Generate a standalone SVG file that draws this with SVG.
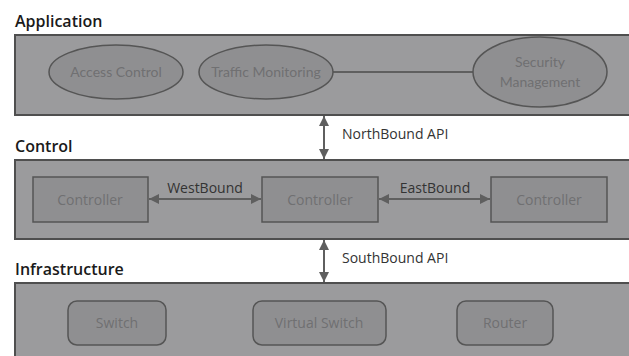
<svg xmlns="http://www.w3.org/2000/svg" width="629" height="356" viewBox="0 0 629 356">
<style>
.title{font-family:"Open Sans","DejaVu Sans",sans-serif;font-size:16px;font-weight:600;fill:#1a1a1a}
.layer{fill:#9b9b9d;stroke:#4f4f4f;stroke-width:2}
.ell{fill:#8f8f91;stroke:#555;stroke-width:1.5}
.box{fill:#8f8f91;stroke:#555;stroke-width:1.5}
.ntext{font-family:"Lato","Open Sans",sans-serif;font-size:14px;fill:#707072;text-anchor:middle}
.otext{font-family:"Open Sans",sans-serif;font-size:14px;fill:#707072;text-anchor:middle}
.lbl{font-family:"Open Sans",sans-serif;font-size:14px;fill:#333}
.conn{stroke:#5f5f5f;stroke-width:2;fill:none}
</style>
<defs>
<marker id="ah" viewBox="0 0 10 10" refX="10" refY="5" markerWidth="5" markerHeight="5" orient="auto-start-reverse" markerUnits="strokeWidth">
<path d="M0,0 L10,5 L0,10 z" fill="#5f5f5f"/>
</marker>
</defs>
<rect width="629" height="356" fill="#fff"/>
<g id="layer-application">
<text class="title" x="15" y="27">Application</text>
<rect class="layer" x="15" y="35" width="620" height="80"/>
</g>
<g id="layer-control">
<text class="title" x="15" y="152">Control</text>
<rect class="layer" x="15" y="160" width="620" height="79"/>
</g>
<g id="layer-infrastructure">
<text class="title" x="15" y="275">Infrastructure</text>
<rect class="layer" x="15" y="283" width="620" height="90"/>
</g>
<g id="connectors">
<line class="conn" x1="333" y1="72" x2="473" y2="72"/>
<line class="conn" x1="324" y1="116" x2="324" y2="159" marker-start="url(#ah)" marker-end="url(#ah)"/>
<line class="conn" x1="324" y1="240" x2="324" y2="282" marker-start="url(#ah)" marker-end="url(#ah)"/>
<line class="conn" x1="149" y1="199" x2="261" y2="199" marker-start="url(#ah)" marker-end="url(#ah)"/>
<line class="conn" x1="379" y1="199" x2="490" y2="199" marker-start="url(#ah)" marker-end="url(#ah)"/>
<text class="lbl" x="342" y="139">NorthBound API</text>
<text class="lbl" x="342" y="263">SouthBound API</text>
<text class="lbl" x="205" y="193" text-anchor="middle">WestBound</text>
<text class="lbl" x="435" y="193" text-anchor="middle">EastBound</text>
</g>
<g id="access-control">
<ellipse class="ell" cx="116" cy="72" rx="67" ry="27"/>
<text class="ntext" x="116" y="77">Access Control</text>
</g>
<g id="traffic-monitoring">
<ellipse class="ell" cx="266" cy="72" rx="67" ry="27"/>
<text class="ntext" x="266" y="77">Traffic Monitoring</text>
</g>
<g id="security-management">
<ellipse class="ell" cx="540" cy="72" rx="67" ry="35"/>
<text class="ntext" x="540" y="67">Security</text>
<text class="ntext" x="540" y="87">Management</text>
</g>
<g id="controller-left">
<rect class="box" x="33" y="177" width="115" height="45"/>
<text class="otext" x="90" y="205">Controller</text>
</g>
<g id="controller-middle">
<rect class="box" x="262" y="177" width="116" height="45"/>
<text class="otext" x="320" y="205">Controller</text>
</g>
<g id="controller-right">
<rect class="box" x="491" y="177" width="116" height="45"/>
<text class="otext" x="549" y="205">Controller</text>
</g>
<g id="switch">
<rect class="box" x="68" y="301" width="98" height="44" rx="9"/>
<text class="otext" x="117" y="328">Switch</text>
</g>
<g id="virtual-switch">
<rect class="box" x="253" y="301" width="133" height="44" rx="9"/>
<text class="otext" x="319" y="328">Virtual Switch</text>
</g>
<g id="router">
<rect class="box" x="457" y="301" width="96" height="44" rx="9"/>
<text class="otext" x="505" y="328">Router</text>
</g>
</svg>
